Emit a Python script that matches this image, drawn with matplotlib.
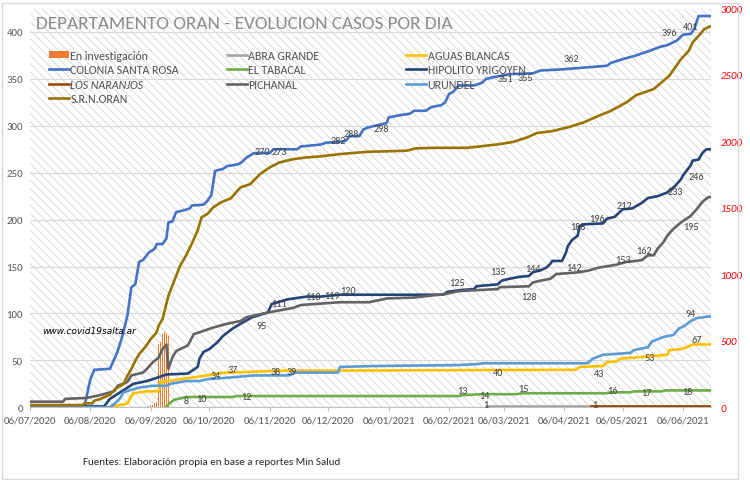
import numpy as np
import pandas as pd
import matplotlib
matplotlib.use('Agg')
import matplotlib.pyplot as plt
import matplotlib.dates as mdates
from matplotlib.patches import Rectangle, Patch

# ---------------- datos (dias desde 06/07/2020, casos acumulados) ----------------
INICIO = '2020-07-06'
FIN_DIAS = 349.4

fechas_ticks = ['06/07/2020', '06/08/2020', '06/09/2020', '06/10/2020', '06/11/2020', '06/12/2020',
                '06/01/2021', '06/02/2021', '06/03/2021', '06/04/2021', '06/05/2021', '06/06/2021']

invest_dias = [61, 62, 63, 64, 65, 66, 67, 68, 69, 70, 71]
invest_vals = [1, 2, 3, 5, 6, 67, 70, 78, 80, 78, 76]

abra_dias = [234, 349]
abra_vals = [1, 1]

aguas_dias = [0, 40, 50, 52, 53, 60, 66, 67, 68, 77, 84, 91, 96, 101, 116, 128, 139, 272, 280, 282,
              294, 296, 301, 303, 310, 327, 328, 334, 337, 340, 349]
aguas_vals = [0, 0, 4, 12, 15, 17, 17, 27, 27, 30, 32, 34, 36, 37, 38, 39, 39, 40, 40, 43,
              44, 48, 49, 52, 53, 56, 61, 62, 64, 67, 67]

colonia_dias = [0, 28, 29, 30, 31, 33, 41, 44, 45, 47, 50, 52, 54, 56, 58, 61, 64, 65, 68, 70,
                71, 73, 75, 79, 82, 83, 89, 91, 93, 95, 99, 101, 104, 107, 109, 111, 115, 123, 125, 137,
                139, 149, 152, 159, 162, 164, 169, 171, 173, 177, 183, 184, 189, 195, 197, 203, 206, 211, 213, 215,
                217, 220, 228, 232, 234, 238, 241, 246, 258, 262, 272, 284, 296, 298, 304, 311, 318, 323, 327, 332,
                335, 339, 341, 343, 349]
colonia_vals = [1, 1, 11, 21, 30, 40, 41, 55, 60, 73, 98, 128, 131, 155, 157, 165, 169, 174, 174, 180,
                197, 198, 208, 210, 212, 215, 216, 220, 226, 252, 254, 257, 258, 259, 262, 266, 271, 271, 275, 275,
                278, 280, 282, 283, 284, 289, 289, 296, 298, 300, 303, 309, 311, 313, 316, 316, 320, 322, 325, 334,
                336, 343, 343, 346, 350, 352, 353, 355, 356, 359, 360, 362, 364, 367, 371, 375, 380, 384, 386, 391,
                397, 398, 404, 417, 417]

tabacal_dias = [70, 72, 74, 80, 104, 106, 220, 222, 232, 250, 252, 296, 298, 308, 310, 324, 326, 349]
tabacal_vals = [1, 5, 8, 11, 11, 12, 12, 13, 14, 14, 15, 15, 16, 16, 17, 17, 18, 18]

hipolito_dias = [0, 38, 41, 50, 53, 60, 63, 70, 81, 86, 87, 89, 92, 96, 99, 104, 108, 114, 122, 124,
                 132, 142, 149, 159, 212, 214, 221, 228, 229, 234, 240, 242, 246, 251, 256, 258, 262, 265, 267, 268,
                 273, 275, 276, 278, 281, 282, 284, 294, 296, 300, 304, 309, 314, 317, 322, 327, 331, 334, 335, 339,
                 340, 343, 345, 347, 349]
hipolito_vals = [1, 1, 9, 21, 25, 28, 30, 35, 36, 43, 52, 59, 62, 69, 76, 84, 89, 96, 101, 110,
                 115, 118, 118, 120, 120, 123, 125, 126, 129, 130, 131, 135, 137, 139, 140, 144, 146, 149, 153, 156,
                 156, 165, 172, 178, 183, 193, 195, 196, 201, 203, 211, 212, 218, 223, 225, 229, 236, 243, 247, 258,
                 263, 264, 271, 275, 275]

naranjos_dias = [288, 349]
naranjos_vals = [1, 1]

pichanal_dias = [0, 17, 18, 29, 36, 43, 45, 50, 52, 58, 60, 63, 66, 68, 70, 71, 73, 75, 81, 84,
                 87, 94, 101, 108, 111, 122, 135, 139, 159, 174, 183, 197, 214, 218, 221, 240, 241, 256, 258, 262,
                 267, 270, 282, 287, 292, 301, 306, 311, 314, 317, 320, 322, 325, 327, 330, 334, 339, 342, 345, 348,
                 349]
pichanal_vals = [6, 6, 9, 10, 13, 17, 23, 27, 34, 37, 41, 48, 53, 62, 67, 41, 53, 60, 66, 78,
                 80, 85, 89, 92, 96, 101, 106, 109, 112, 112, 116, 117, 121, 123, 124, 126, 128, 129, 133, 135,
                 137, 142, 144, 146, 149, 152, 155, 156, 157, 162, 162, 169, 176, 183, 190, 197, 204, 211, 219, 224,
                 224]

urundel_dias = [0, 41, 44, 46, 48, 51, 56, 63, 70, 72, 80, 87, 91, 104, 115, 133, 136, 158, 159, 176,
                219, 229, 233, 286, 289, 294, 301, 308, 310, 317, 319, 325, 330, 333, 336, 339, 342, 349]
urundel_vals = [0, 0, 5, 9, 16, 18, 21, 23, 23, 25, 28, 28, 30, 32, 34, 34, 37, 37, 43, 44,
                45, 46, 47, 47, 52, 56, 57, 58, 61, 64, 70, 75, 77, 84, 87, 92, 95, 97]

# S.R.N.ORAN va en el eje secundario
oran_dias = [0, 27, 28, 32, 33, 36, 41, 44, 45, 48, 50, 52, 54, 56, 59, 62, 65, 66, 68, 71,
             74, 77, 80, 83, 86, 88, 91, 94, 98, 103, 108, 113, 118, 123, 128, 135, 142, 149, 159, 173,
             193, 198, 207, 224, 231, 241, 248, 255, 260, 268, 277, 284, 291, 298, 306, 311, 320, 328, 334, 338,
             340, 343, 346, 349]
oran_vals = [17, 17, 30, 30, 50, 62, 95, 138, 150, 175, 238, 288, 350, 400, 451, 514, 564, 614, 664, 839,
             952, 1065, 1140, 1230, 1330, 1429, 1454, 1504, 1542, 1572, 1654, 1679, 1754, 1805, 1842, 1867, 1880, 1888, 1905, 1922,
             1930, 1948, 1952, 1952, 1963, 1980, 1997, 2030, 2063, 2078, 2110, 2143, 2188, 2230, 2294, 2348, 2394, 2494, 2619, 2682,
             2745, 2794, 2845, 2866]

# etiquetas de datos (dia, valor) y desplazamiento vertical en px
etq_colonia_dias = [119, 128, 158, 165, 180, 244, 254, 278, 328, 339, 350]
etq_colonia_vals = [270, 273, 282, 288, 298, 351, 355, 362, 396, 401, 417]
etq_colonia_dy = [2, 0, 2, 4, -1, -1, -3.5, 9, 3, 5, 4]

etq_hipolito_dias = [119, 128, 145, 155, 163, 219, 240, 258, 281, 291, 305, 331, 342, 355]
etq_hipolito_vals = [95, 111, 118, 119, 120, 125, 135, 144, 188, 196, 212, 233, 246, 275]
etq_hipolito_dy = [-7, 0, 0, 0, 4, 8, 9, 4, 4, 5, 3, -3, 0, 0]

etq_pichanal_dias = [256, 279, 304, 315, 339, 356]
etq_pichanal_vals = [128, 142, 153, 162, 195, 223]
etq_pichanal_dy = [-9, 7, 4, 5, -2, 0]

etq_urundel_dias = [339, 353]
etq_urundel_vals = [94, 97]
etq_urundel_dy = [6, 5]

etq_aguas_dias = [95, 104, 126, 134, 240, 292, 318, 342]
etq_aguas_vals = [34, 37, 38, 39, 40, 43, 53, 67]
etq_aguas_dy = [0, 3, 0, -1, -3, -7, 0, 5]

etq_tabacal_dias = [80, 88, 111, 222, 233, 253, 299, 316, 337]
etq_tabacal_vals = [8, 10, 12, 13, 14, 15, 16, 17, 18]
etq_tabacal_dy = [-1, -1, 0, 5, -1, 5, 2, -1, -1]

etq_abra_dias = [234]
etq_abra_vals = [1]
etq_naranjos_dias = [290]
etq_naranjos_vals = [1]

etq_oran_dias = [356]
etq_oran_vals = [2866]

# ---------------- estilo ----------------
plt.rcParams['font.family'] = ['Carlito', 'DejaVu Sans']
plt.rcParams['hatch.linewidth'] = 0.6

x0 = mdates.date2num(pd.Timestamp(INICIO))


def xs(dias):
    return x0 + np.array(dias, dtype=float)


def etiquetar(eje, dias, vals, dys=None):
    # dy en px (positivo hacia arriba) -> puntos a 100 dpi
    if dys is None:
        dys = [2] * len(vals)
    for d, v, dy in zip(dias, vals, dys):
        eje.annotate(f'{v}', xy=(x0 + d, v), xytext=(0, dy * 0.72),
                     textcoords='offset points', ha='center', va='center',
                     fontsize=7.3, color='#404040', zorder=6)


fig = plt.figure(figsize=(7.5, 4.81), dpi=100)
ax = fig.add_axes([0.04, 0.1511, 0.908, 0.8291])
ax2 = ax.twinx()

# fondo rayado
fondo = Rectangle((0, 0), 1, 1, transform=ax.transAxes, facecolor='white',
                  edgecolor='#D3D3D3', linewidth=0, hatch='\\\\\\\\', zorder=0)
ax.add_patch(fondo)
ax.set_axisbelow(True)
ax.yaxis.grid(True, color='#D9D9D9', linewidth=0.8)

LW = 1.9
ax.bar(xs(invest_dias), invest_vals, width=0.5, color='#ED7D31', zorder=2)
l_abra, = ax.plot(xs(abra_dias), abra_vals, color='#A5A5A5', lw=LW, zorder=3)
l_aguas, = ax.plot(xs(aguas_dias), aguas_vals, color='#FFC000', lw=LW, zorder=3)
l_colonia, = ax.plot(xs(colonia_dias), colonia_vals, color='#4472C4', lw=LW, zorder=3)
l_tabacal, = ax.plot(xs(tabacal_dias), tabacal_vals, color='#70AD47', lw=LW, zorder=3)
l_hipolito, = ax.plot(xs(hipolito_dias), hipolito_vals, color='#264478', lw=LW, zorder=3)
l_naranjos, = ax.plot(xs(naranjos_dias), naranjos_vals, color='#9E480E', lw=LW, zorder=3)
l_pichanal, = ax.plot(xs(pichanal_dias), pichanal_vals, color='#636363', lw=LW, zorder=3)
l_urundel, = ax.plot(xs(urundel_dias), urundel_vals, color='#5B9BD5', lw=LW, zorder=3)
l_oran, = ax2.plot(xs(oran_dias), oran_vals, color='#997300', lw=LW, zorder=3)

etiquetar(ax, etq_colonia_dias, etq_colonia_vals, etq_colonia_dy)
etiquetar(ax, etq_hipolito_dias, etq_hipolito_vals, etq_hipolito_dy)
etiquetar(ax, etq_pichanal_dias, etq_pichanal_vals, etq_pichanal_dy)
etiquetar(ax, etq_urundel_dias, etq_urundel_vals, etq_urundel_dy)
etiquetar(ax, etq_aguas_dias, etq_aguas_vals, etq_aguas_dy)
etiquetar(ax, etq_tabacal_dias, etq_tabacal_vals, etq_tabacal_dy)
etiquetar(ax, etq_abra_dias, etq_abra_vals)
etiquetar(ax, etq_naranjos_dias, etq_naranjos_vals)
etiquetar(ax2, etq_oran_dias, etq_oran_vals, [-1])

# ejes
ax.set_xlim(x0, x0 + FIN_DIAS)
ax.set_ylim(0, 425)
ax2.set_ylim(0, 3000)
ax.set_yticks(range(0, 401, 50))
ax2.set_yticks(range(0, 3001, 500))
ax.set_xticks([mdates.date2num(pd.to_datetime(t, dayfirst=True)) for t in fechas_ticks])
ax.set_xticklabels(fechas_ticks)

ax.tick_params(axis='y', length=0, pad=5, labelsize=7.8, labelcolor='#595959')
ax.tick_params(axis='x', length=3, color='#BFBFBF', pad=3, labelsize=7.8, labelcolor='#595959')
ax2.tick_params(axis='y', length=0, pad=7, labelsize=7.8, labelcolor='#FF0000')
for t in ax2.get_yticklabels():
    t.set_fontstyle('italic')

for s in ['top', 'left', 'right']:
    ax.spines[s].set_visible(False)
ax.spines['bottom'].set_color('#BFBFBF')
ax.spines['bottom'].set_linewidth(0.8)
for s in ax2.spines.values():
    s.set_visible(False)

# leyenda en tres columnas
FS_LEY = 8.6
columnas = [
    ([Patch(facecolor='#ED7D31'), l_colonia, l_naranjos, l_oran],
     ['En investigación', 'COLONIA SANTA ROSA', 'LOS NARANJOS', 'S.R.N.ORAN'], 49),
    ([l_abra, l_tabacal, l_pichanal], ['ABRA GRANDE', 'EL TABACAL', 'PICHANAL'], 227),
    ([l_aguas, l_hipolito, l_urundel], ['AGUAS BLANCAS', 'HIPOLITO YRIGOYEN', 'URUNDEL'], 406),
]
for handles, labels, xpx in columnas:
    leg = fig.legend(handles, labels, loc='upper left', bbox_to_anchor=(xpx / 750, 1 - 50.5 / 481),
                     frameon=False, fontsize=FS_LEY, borderpad=0, borderaxespad=0,
                     handlelength=1.68, handleheight=0.55, handletextpad=0.12, labelspacing=0.3)
    for txt in leg.get_texts():
        txt.set_color('#505050')
        if txt.get_text() == 'LOS NARANJOS':
            txt.set_fontstyle('italic')

# textos
fig.text(36 / 750, 1 - 23.7 / 481, 'DEPARTAMENTO ORAN - EVOLUCION CASOS POR DIA',
         fontsize=13.8, color='#8C8C8C', ha='left', va='center')
fig.text(42 / 750, 1 - 331.5 / 481, 'www.covid19salta.ar', fontsize=6.5, style='italic',
         family='DejaVu Sans', color='black', ha='left', va='center')
fig.text(83 / 750, 1 - 463 / 481, 'Fuentes: Elaboración propia en base a reportes Min Salud',
         fontsize=7.9, color='#262626', ha='left', va='center')

# borde del grafico
fig.patches.append(Rectangle((2 / 750, 0.002), 736 / 750, 1 - 4 / 481 - 0.002, transform=fig.transFigure,
                             fill=False, edgecolor='#D9D9D9', linewidth=1))

fig.savefig('out.png', dpi=100)
